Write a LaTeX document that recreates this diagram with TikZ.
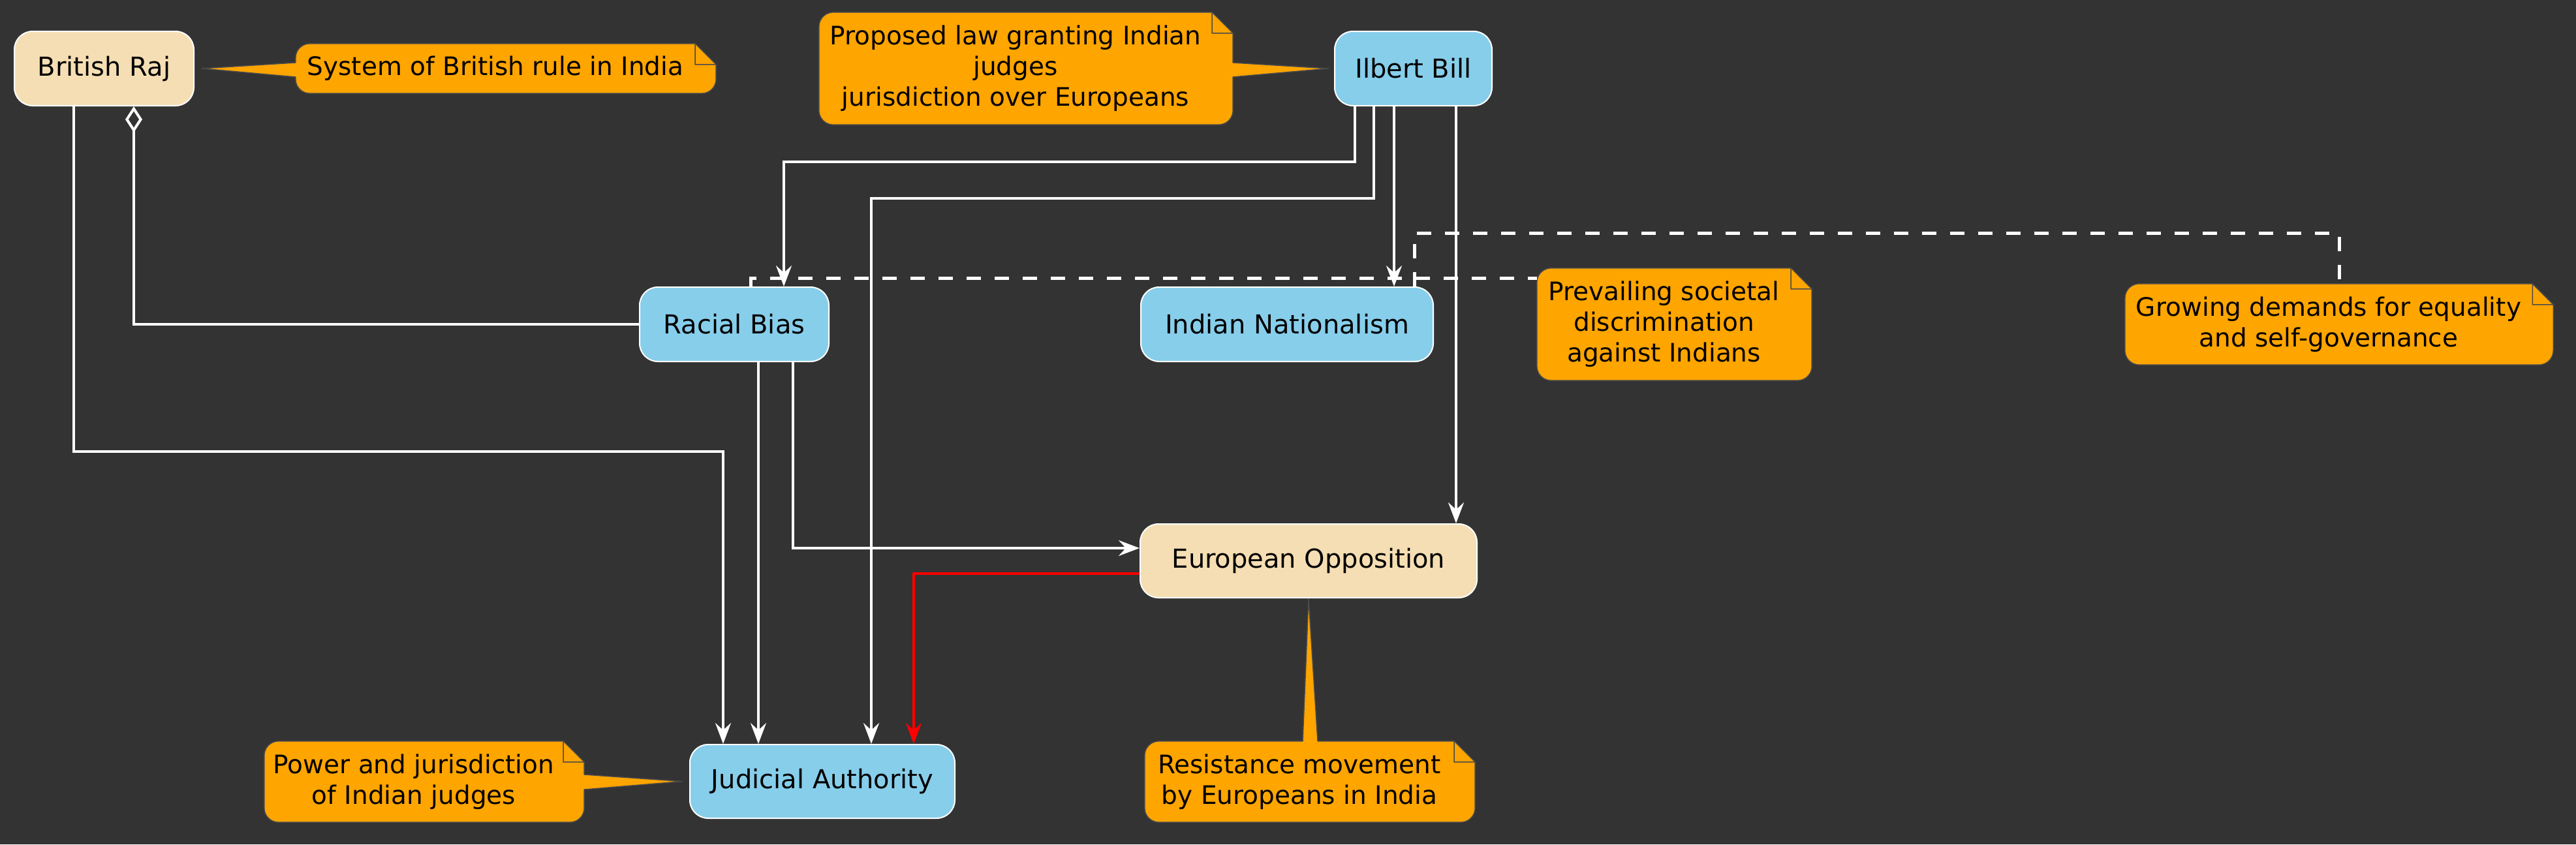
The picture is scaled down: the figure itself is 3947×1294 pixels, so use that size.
\documentclass[tikz,border=0pt]{standalone}
\usepackage{fontspec}
\setmainfont{DejaVu Sans}
\usetikzlibrary{arrows.meta}
\definecolor{bgc}{HTML}{333333}
\definecolor{skyb}{HTML}{87CEEB}
\definecolor{wheatc}{HTML}{F5DEB3}
\definecolor{orangec}{HTML}{FFA500}
\definecolor{noteline}{HTML}{4A4A4A}
\definecolor{redc}{HTML}{FF0000}
\pgfdeclarelayer{bg}
\pgfsetlayers{bg,main}
\tikzset{
  ent/.style={draw=white, line width=2pt, rounded corners=28pt, minimum height=114pt,
    inner sep=0pt, font=\fontsize{40}{48}\selectfont, text=black},
  blueent/.style={ent, fill=skyb},
  wheatent/.style={ent, fill=wheatc},
  notetxt/.style={inner sep=0pt, align=center, font=\fontsize{39}{47}\selectfont, text=black},
  tipstyle/.style={-{Stealth[length=32pt,width=24pt,inset=11pt]}},
  conn/.style={draw=white, line width=4pt, tipstyle},
  redconn/.style={draw=redc, line width=4pt, -{Stealth[length=32pt,width=24pt,inset=11pt]}},
  aggr/.style={draw=white, line width=4pt, {Diamond[open,length=40pt,width=26pt]}-},
  notelink/.style={draw=white, line width=5pt, dash pattern=on 22pt off 21pt},
  notebg/.style={fill=orangec, draw=noteline, line width=1.5pt, rounded corners=22pt},
  pointer/.style={fill=orangec},
  pointeredge/.style={draw=noteline, line width=1.5pt},
}
\newcommand\notebody[1]{%
  \path[notebg] (#1.north west) rectangle ([xshift=32pt]#1.south east);
  \fill[bgc] ([xshift=-3pt,yshift=3pt]#1.north east) -- ([xshift=35pt,yshift=3pt]#1.north east)
     -- ([xshift=35pt,yshift=-35pt]#1.north east) -- cycle;
  \draw[noteline, line width=1.5pt] (#1.north east) -- ([xshift=32pt,yshift=-32pt]#1.north east);
  \filldraw[fill=orangec, draw=noteline, line width=1.5pt] (#1.north east) -- ([yshift=-32pt]#1.north east)
     -- ([xshift=32pt,yshift=-32pt]#1.north east) -- cycle;
}
\begin{document}
\begin{tikzpicture}[x=1pt,y=-1pt]
\useasboundingbox (0,0) rectangle (3947,1294);
% entities
\node[wheatent, minimum width=275pt] (br) at (159.5,105) {British Raj};
\node[blueent, minimum width=241pt] (ib) at (2165.5,105) {Ilbert Bill};
\node[blueent, minimum width=290pt] (rb) at (1125,497) {Racial Bias};
\node[blueent, minimum width=448pt] (in) at (1972,497) {Indian Nationalism};
\node[wheatent, minimum width=516pt, minimum height=113pt] (eo) at (2005,859.5) {European Opposition};
\node[blueent, minimum width=406pt, minimum height=113pt] (ja) at (1260,1197.5) {Judicial Authority};
% notes
\node[notetxt, minimum width=612pt, minimum height=76pt] (n1) at (759,105) {System of British rule in India};
\node[notetxt, minimum width=602pt, minimum height=172pt] (n2) at (1556,105) {Proposed law granting Indian\\judges\\jurisdiction over Europeans};
\node[notetxt, minimum width=389pt, minimum height=172pt] (n3) at (2549.5,497) {Prevailing societal\\discrimination\\against Indians};
\node[notetxt, minimum width=624pt, minimum height=124pt] (n4) at (3568,497) {Growing demands for equality\\and self-governance};
\node[notetxt, minimum width=458pt, minimum height=124pt] (n5) at (634,1198) {Power and jurisdiction\\of Indian judges};
\node[notetxt, minimum width=474pt, minimum height=124pt] (n6) at (1991,1198) {Resistance movement\\by Europeans in India};
% connectors
\draw[conn] (br.south -| 113,0) -- (113,692) -- (1108,692) -- (ja.north -| 1108,0);
\draw[aggr] (br.south -| 205,0) |- (rb.west);
\draw[conn] (rb.south -| 1162,0) -- (ja.north -| 1162,0);
\draw[conn] (rb.south -| 1215,0) |- (eo.west |- 0,840);
\draw[conn] (ib.south -| 2076,0) -- (2076,248) -- (1201,248) -- (rb.north -| 1201,0);
\draw[conn] (ib.south -| 2105,0) -- (2105,304) -- (1335,304) -- (ja.north -| 1335,0);
\draw[conn] (ib.south -| 2136,0) -- (in.north -| 2136,0);
\draw[conn] (ib.south -| 2231,0) -- (eo.north -| 2231,0);
\draw[redconn] (eo.west |- 0,879) -| (ja.north -| 1400,0);
\draw[notelink] (rb.north -| 1150,0) |- (n3.west |- 0,426);
\draw[notelink] (in.north -| 2167,0) -- (2167,357) -| (n4.north -| 3584,0);
\begin{pgfonlayer}{bg}
\fill[bgc] (0,0) rectangle (3947,1294);
\notebody{n1}
\notebody{n2}
\notebody{n3}
\notebody{n4}
\notebody{n5}
\notebody{n6}
% pointers
\fill[pointer] (456,96) -- ([xshift=11pt]br.east) -- (456,118) -- cycle;
\draw[pointeredge] (453,96) -- ([xshift=11pt]br.east) -- (453,118);
\fill[pointer] (1886,96) -- ([xshift=-8pt]ib.west) -- (1886,118) -- cycle;
\draw[pointeredge] (1889,96) -- ([xshift=-8pt]ib.west) -- (1889,118);
\fill[pointer] (892,1187) -- ([xshift=-10pt]ja.west) -- (892,1210) -- cycle;
\draw[pointeredge] (895,1187) -- ([xshift=-10pt]ja.west) -- (895,1210);
\fill[pointer] (1996,1139) -- (eo.south) -- (2019,1139) -- cycle;
\draw[pointeredge] (1996,1136) -- (eo.south) -- (2019,1136);
\end{pgfonlayer}
\end{tikzpicture}
\end{document}
